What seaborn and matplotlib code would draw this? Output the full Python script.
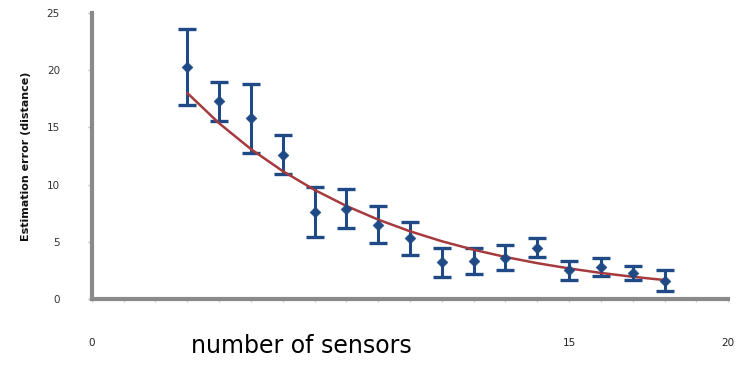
import numpy as np
import pandas as pd
import matplotlib
matplotlib.use('Agg')
import matplotlib.pyplot as plt
import seaborn as sns

# data
sensors = [3, 4, 5, 6, 7, 8, 9, 10, 11, 12, 13, 14, 15, 16, 17, 18]
mean_err = [20.3, 17.3, 15.8, 12.6, 7.6, 7.9, 6.5, 5.3, 3.2, 3.3, 3.6, 4.5, 2.5, 2.8, 2.3, 1.6]
std_err = [3.3, 1.7, 3.0, 1.7, 2.2, 1.7, 1.6, 1.45, 1.3, 1.15, 1.1, 0.85, 0.85, 0.75, 0.6, 0.9]
y_ticks = [0, 5, 10, 15, 20, 25]
x_tick_labels = {0: '0', 15: '15', 20: '20'}

sns.set_theme(style="white")
plt.rcParams['font.family'] = ['DejaVu Sans']

df = pd.DataFrame({'sensors': sensors, 'error': mean_err, 'sd': std_err})

# exponential trend line fitted to the means (like a spreadsheet trendline)
b, a = np.polyfit(df['sensors'], np.log(df['error']), 1)
fit = pd.DataFrame({'sensors': df['sensors']})
fit['error'] = np.exp(a + b * fit['sensors'])

fig = plt.figure(figsize=(7.53, 3.71), dpi=100)
ax = fig.add_axes([0.122, 0.194, 0.845, 0.771])

blue = '#1f4a86'
ax.errorbar(df['sensors'], df['error'], yerr=df['sd'], fmt='none',
            ecolor=blue, elinewidth=2.2, capsize=6.5, capthick=2.4, zorder=2)
sns.lineplot(data=fit, x='sensors', y='error', ax=ax, color='#a63a3d',
             linewidth=1.8, zorder=3)
sns.scatterplot(data=df, x='sensors', y='error', ax=ax, color=blue,
                marker='D', s=30, edgecolor=blue, zorder=4)

ax.set_xlim(0, 20)
ax.set_ylim(0, 25)
ax.set_yticks(y_ticks)
ax.set_yticklabels([str(t) for t in y_ticks], fontsize=7.5, color='#333333')
ax.set_xticks(range(0, 21))
ax.set_xticklabels([x_tick_labels.get(t, '') for t in range(0, 21)],
                   fontsize=7.5, color='#222222')
ax.tick_params(axis='y', length=3, width=1, color='#bbbbbb', direction='out',
               left=True, pad=20)
ax.tick_params(axis='x', length=2, width=1, color='#cccccc', direction='out',
               bottom=True, pad=26)

for side in ['top', 'right']:
    ax.spines[side].set_visible(False)
for side in ['left', 'bottom']:
    ax.spines[side].set_color('#8a8a8a')
    ax.spines[side].set_linewidth(3)

ax.set_xlabel('')
ax.set_ylabel('Estimation error (distance)', fontsize=8, fontweight='bold',
              color='#111111')
ax.yaxis.set_label_coords(-0.095, 0.5)
fig.text(0.40, 0.035, 'number of sensors', fontsize=17, ha='center',
         va='bottom', color='black')

fig.savefig('out.png', dpi=100)
